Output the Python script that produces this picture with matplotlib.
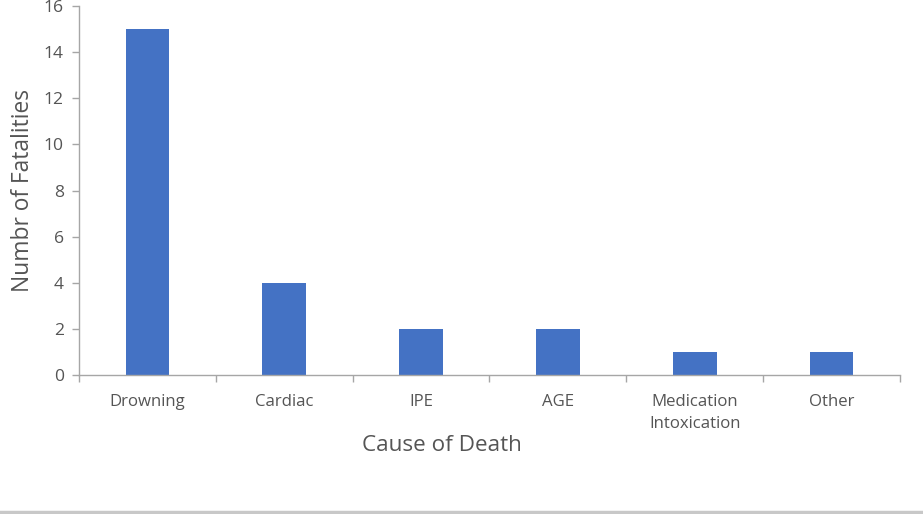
import numpy as np
import matplotlib.pyplot as plt
from matplotlib.lines import Line2D

plt.rcParams['font.family'] = ['Open Sans', 'DejaVu Sans']

causes = ['Drowning', 'Cardiac', 'IPE', 'AGE', 'Medication\nIntoxication', 'Other']
fatalities = [15, 4, 2, 2, 1, 1]

bar_color = '#4472C4'
text_color = '#555555'
axis_color = '#a6a6a6'

fig = plt.figure(figsize=(9.23, 5.14), dpi=100)
ax = fig.add_axes([0.0856, 0.2704, 0.8894, 0.7179])

x = np.arange(len(causes))
ax.bar(x, fatalities, width=0.32, color=bar_color)

ax.set_xlim(-0.5, len(causes) - 0.5)
ax.set_ylim(0, 16)
ax.set_yticks(range(0, 17, 2))

# category labels in the middle, ticks on the boundaries (Excel style)
ax.set_xticks(x)
ax.set_xticklabels(causes, fontsize=12.1, color=text_color, linespacing=1.45)
ax.tick_params(axis='x', which='major', length=0, pad=14)
ax.set_xticks(np.arange(-0.5, len(causes)), minor=True)
ax.tick_params(axis='x', which='minor', length=5, color=axis_color, width=1)
ax.tick_params(axis='y', length=5, color=axis_color, width=1, labelsize=12.6,
               labelcolor=text_color, pad=6)

for s in ['top', 'right']:
    ax.spines[s].set_visible(False)
for s in ['left', 'bottom']:
    ax.spines[s].set_color(axis_color)
    ax.spines[s].set_linewidth(1)

ax.set_xlabel('Cause of Death', fontsize=16.2, color=text_color, va='center')
ax.xaxis.set_label_coords(0.4415, -0.19)
ax.set_ylabel('Numbr of Fatalities', fontsize=16.4, color=text_color, labelpad=6)

# thin grey rule at the bottom edge of the image
fig.add_artist(Line2D([0, 1], [0.003, 0.003], transform=fig.transFigure,
                      color='#c8c8c8', linewidth=2.5))

fig.savefig('out.png', dpi=100)
